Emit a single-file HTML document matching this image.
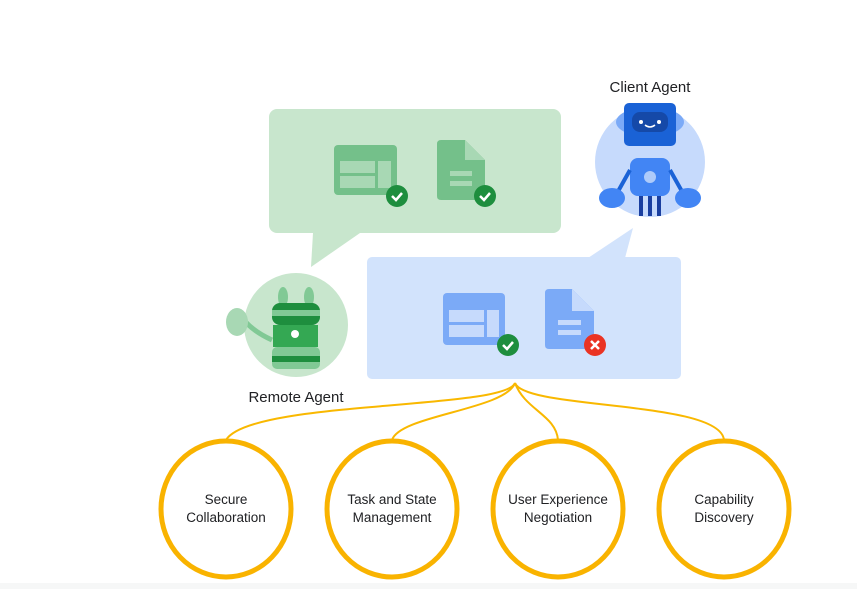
<!DOCTYPE html>
<html><head><meta charset="utf-8"><style>
body{margin:0;background:#fff;}
svg{display:block}
text{font-family:"Liberation Sans",sans-serif;fill:#202124}
</style></head><body>
<svg width="857" height="589" viewBox="0 0 857 589">
<rect x="0" y="583" width="857" height="6" fill="#f6f7f7"/>
<!-- green bubble -->
<rect x="269" y="109" width="292" height="124" rx="8" fill="#c8e6cd"/>
<polygon points="313,233 360,233 311,267" fill="#c8e6cd"/>
<!-- blue bubble -->
<rect x="367" y="257" width="314" height="122" rx="5" fill="#d2e3fc"/>
<polygon points="588,258 625,258 633,228" fill="#d2e3fc"/>
<!-- green icons -->
<rect x="334" y="145" width="63" height="50" rx="4" fill="#74c08a"/>
<rect x="340" y="161" width="35" height="12" fill="#a8d8b4"/><rect x="340" y="176" width="35" height="12" fill="#a8d8b4"/><rect x="378" y="161" width="13" height="27" fill="#a8d8b4"/>
<path d="M441,140 H465 L485,160 V196 Q485,200 481,200 H441 Q437,200 437,196 V144 Q437,140 441,140Z" fill="#74c08a"/>
<path d="M465,140 V160 H485Z" fill="#a8d8b4"/>
<rect x="450" y="171" width="22" height="5" fill="#a8d8b4"/><rect x="450" y="181" width="22" height="5" fill="#a8d8b4"/>
<circle cx="397" cy="196" r="11" fill="#1e8e3e"/><path d="M392,196 l4,4 l6,-7" stroke="#fff" stroke-width="2.5" fill="none"/>
<circle cx="485" cy="196" r="11" fill="#1e8e3e"/><path d="M480,196 l4,4 l6,-7" stroke="#fff" stroke-width="2.5" fill="none"/>
<!-- blue icons -->
<rect x="443" y="293" width="62" height="52" rx="4" fill="#7baaf7"/>
<rect x="449" y="310" width="35" height="12" fill="#c6dafc"/><rect x="449" y="325" width="35" height="12" fill="#c6dafc"/><rect x="487" y="310" width="12" height="27" fill="#c6dafc"/>
<path d="M549,289 H572 L594,311 V345 Q594,349 590,349 H549 Q545,349 545,345 V293 Q545,289 549,289Z" fill="#7baaf7"/>
<path d="M572,289 V311 H594Z" fill="#c6dafc"/>
<rect x="558" y="320" width="23" height="5" fill="#c6dafc"/><rect x="558" y="330" width="23" height="5" fill="#c6dafc"/>
<circle cx="508" cy="345" r="11" fill="#1e8e3e"/><path d="M503,345 l4,4 l6,-7" stroke="#fff" stroke-width="2.5" fill="none"/>
<circle cx="595" cy="345" r="11" fill="#ea3323"/><path d="M591,341 l8,8 M599,341 l-8,8" stroke="#fff" stroke-width="2.5"/>
<!-- remote agent -->
<circle cx="296" cy="325" r="52" fill="#c8e6cd"/>
<ellipse cx="283" cy="297" rx="5" ry="10" fill="#81c995"/><ellipse cx="309" cy="297" rx="5" ry="10" fill="#81c995"/>
<rect x="272" y="303" width="48" height="22" rx="8" fill="#1e8e3e"/>
<rect x="272" y="310" width="48" height="6" fill="#81c995"/>
<rect x="273" y="325" width="45" height="22" fill="#34a853"/>
<rect x="272" y="347" width="48" height="22" rx="5" fill="#81c995"/>
<rect x="272" y="356" width="48" height="6" fill="#1e8e3e"/>
<circle cx="295" cy="334" r="4" fill="#fff"/>
<path d="M272,340 Q250,330 240,315" stroke="#81c995" stroke-width="5" fill="none"/>
<ellipse cx="237" cy="322" rx="11" ry="14" fill="#a8d8b4"/>
<!-- client agent -->
<circle cx="650" cy="162" r="55" fill="#c6dafc"/>
<ellipse cx="650" cy="122" rx="34" ry="15" fill="#7baaf7"/>
<rect x="624" y="103" width="52" height="43" rx="5" fill="#1a62d6"/>
<rect x="632" y="112" width="36" height="20" rx="8" fill="#1549a8"/>
<circle cx="641" cy="122" r="2" fill="#fff"/><circle cx="659" cy="122" r="2" fill="#fff"/>
<path d="M645,125 q5,4 10,0" stroke="#fff" stroke-width="1.5" fill="none"/>
<rect x="630" y="158" width="40" height="38" rx="8" fill="#4285f4"/>
<circle cx="650" cy="177" r="6" fill="#aecbfa"/>
<path d="M630,170 L616,195 M670,170 L684,195" stroke="#1a62d6" stroke-width="4"/>
<ellipse cx="612" cy="198" rx="13" ry="10" fill="#4285f4"/><ellipse cx="688" cy="198" rx="13" ry="10" fill="#4285f4"/>
<path d="M641,196 V216 M650,196 V216 M659,196 V216" stroke="#1a3fa0" stroke-width="4"/>
<text x="650" y="92" font-size="15" text-anchor="middle">Client Agent</text>
<text x="296" y="402" font-size="15" text-anchor="middle">Remote Agent</text>
<!-- connectors -->
<g stroke="#f9b800" stroke-width="2" fill="none">
<path d="M515,383 C505,410 250,400 226,440"/>
<path d="M515,383 C505,410 400,415 392,440"/>
<path d="M515,383 C525,410 556,415 558,440"/>
<path d="M515,383 C525,410 720,400 724,440"/>
</g>
<g stroke="#f9b300" stroke-width="5" fill="#fff">
<ellipse cx="226" cy="509" rx="65" ry="68"/>
<ellipse cx="392" cy="509" rx="65" ry="68"/>
<ellipse cx="558" cy="509" rx="65" ry="68"/>
<ellipse cx="724" cy="509" rx="65" ry="68"/>
</g>
<g font-size="13.5" text-anchor="middle">
<text x="226" y="504">Secure</text><text x="226" y="522">Collaboration</text>
<text x="392" y="504">Task and State</text><text x="392" y="522">Management</text>
<text x="558" y="504">User Experience</text><text x="558" y="522">Negotiation</text>
<text x="724" y="504">Capability</text><text x="724" y="522">Discovery</text>
</g>
</svg>
</body></html>
